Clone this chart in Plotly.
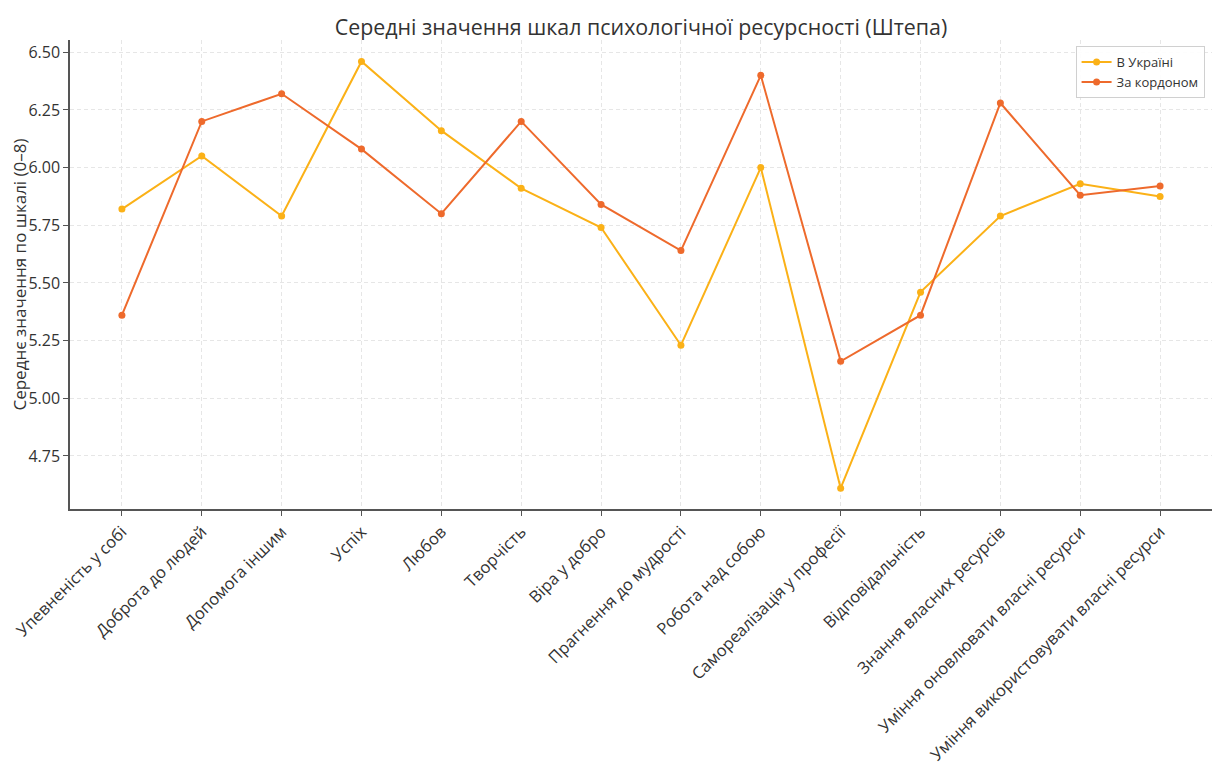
import plotly.graph_objects as go

categories = [
    "Упевненість у собі", "Доброта до людей", "Допомога іншим", "Успіх", "Любов",
    "Творчість", "Віра у добро", "Прагнення до мудрості", "Робота над собою",
    "Самореалізація у професії", "Відповідальність", "Знання власних ресурсів",
    "Уміння оновлювати власні ресурси", "Уміння використовувати власні ресурси",
]
ukraine = [5.82, 6.05, 5.79, 6.46, 6.16, 5.91, 5.74, 5.23, 6.00, 4.61, 5.46, 5.79, 5.93, 5.875]
abroad = [5.36, 6.20, 6.32, 6.08, 5.80, 6.20, 5.84, 5.64, 6.40, 5.16, 5.36, 6.28, 5.88, 5.92]
y_ticks = [4.75, 5.00, 5.25, 5.50, 5.75, 6.00, 6.25, 6.50]

FONT = "Open Sans, Noto Sans, DejaVu Sans, sans-serif"
x_idx = list(range(len(categories)))

fig = go.Figure()
fig.add_trace(go.Scatter(x=x_idx, y=ukraine, mode="lines+markers", name="В Україні",
                         line=dict(color="#FBB117", width=2), marker=dict(size=7, color="#FBB117")))
fig.add_trace(go.Scatter(x=x_idx, y=abroad, mode="lines+markers", name="За кордоном",
                         line=dict(color="#EE6A2C", width=2), marker=dict(size=7, color="#EE6A2C")))

fig.update_layout(
    width=1221, height=767,
    margin=dict(l=62, r=17, t=32, b=266, autoexpand=False),
    paper_bgcolor="white", plot_bgcolor="white",
    font=dict(family=FONT, color="#333333", size=14),
    title=dict(text="Середні значення шкал психологічної ресурсності (Штепа)",
               x=0.5184, xanchor="center", y=0.974, yanchor="middle",
               font=dict(size=21.4, color="#333333")),
    legend=dict(x=0.9935, y=0.987, xanchor="right", yanchor="top",
                bgcolor="rgba(255,255,255,0.9)", bordercolor="#d0d0d0", borderwidth=1,
                font=dict(size=13, color="#333333"), tracegroupgap=0),
    showlegend=True,
)
fig.update_xaxes(
    range=[-0.65, 13.65], tickmode="array", tickvals=x_idx, ticktext=categories,
    tickangle=-45, showline=True, linecolor="#555555", linewidth=1.5,
    ticks="outside", ticklen=5, tickcolor="#555555", automargin=False,
    showgrid=True, gridcolor="#e6e6e6", griddash="4px,3px", gridwidth=1,
    tickfont=dict(size=16.5, color="#333333"), zeroline=False,
)
fig.update_yaxes(
    range=[4.52, 6.553], tickmode="array", tickvals=y_ticks,
    ticktext=[f"{v:.2f}" for v in y_ticks], automargin=False,
    showline=True, linecolor="#555555", linewidth=1.5,
    ticks="outside", ticklen=5, tickcolor="#555555",
    showgrid=True, gridcolor="#e6e6e6", griddash="4px,3px", gridwidth=1,
    tickfont=dict(size=16, color="#333333"), zeroline=False,
    title=dict(text="Середнє значення по шкалі (0–8)", font=dict(size=17, color="#333333"), standoff=1),
)

fig.write_html("out.html")
